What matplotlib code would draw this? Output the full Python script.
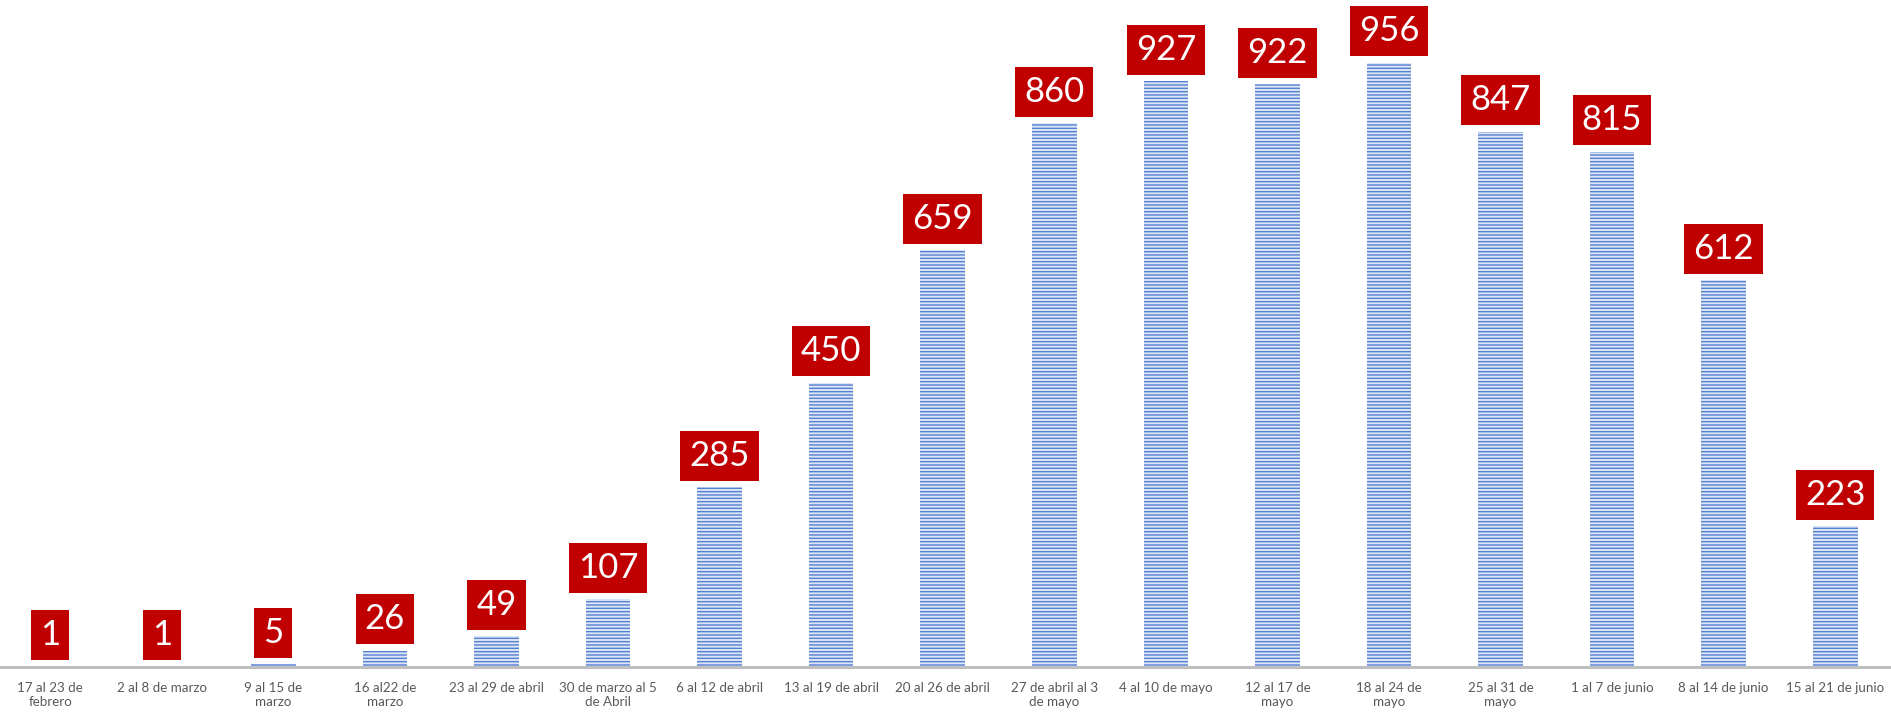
import numpy as np
import matplotlib.pyplot as plt

semanas = ['17 al 23 de\nfebrero', '2 al 8 de marzo', '9 al 15 de\nmarzo', '16 al22 de\nmarzo',
           '23 al 29 de abril', '30 de marzo al 5\nde Abril', '6 al 12 de abril',
           '13 al 19 de abril', '20 al 26 de abril', '27 de abril al 3\nde mayo',
           '4 al 10 de mayo', '12 al 17 de\nmayo', '18 al 24 de\nmayo', '25 al 31 de\nmayo',
           '1 al 7 de junio', '8 al 14 de junio', '15 al 21 de junio']
casos = [1, 1, 5, 26, 49, 107, 285, 450, 659, 860, 927, 922, 956, 847, 815, 612, 223]

plt.rcParams['font.family'] = ['Lato', 'DejaVu Sans']
plt.rcParams['hatch.linewidth'] = 1.0

fig = plt.figure(figsize=(18.91, 7.16), dpi=100)
ax = fig.add_axes([0, 0.0684, 1, 0.9316])

x = np.arange(len(casos))
bars = ax.bar(x, casos, width=0.4, color='#dce5f5', edgecolor='#5581d0',
              hatch='-----', linewidth=0)

for xi, v in zip(x, casos):
    ax.annotate(str(v), (xi, v), xytext=(0, 11), textcoords='offset points',
                ha='center', va='bottom', fontsize=25, color='white',
                bbox=dict(boxstyle='square,pad=0.26', fc='#c00000', ec='none'))

ax.set_xlim(-0.45, 16.5)
ax.set_ylim(0, 1055)
ax.set_xticks(x)
ax.set_xticklabels(semanas, fontsize=9.6, color='#595959', linespacing=1.2)
ax.tick_params(axis='x', length=0, pad=11)
ax.set_yticks([])
for s in ['top', 'right', 'left']:
    ax.spines[s].set_visible(False)
ax.spines['bottom'].set_color('#bfbfbf')
ax.spines['bottom'].set_linewidth(2.2)

fig.savefig('out.png', dpi=100)
